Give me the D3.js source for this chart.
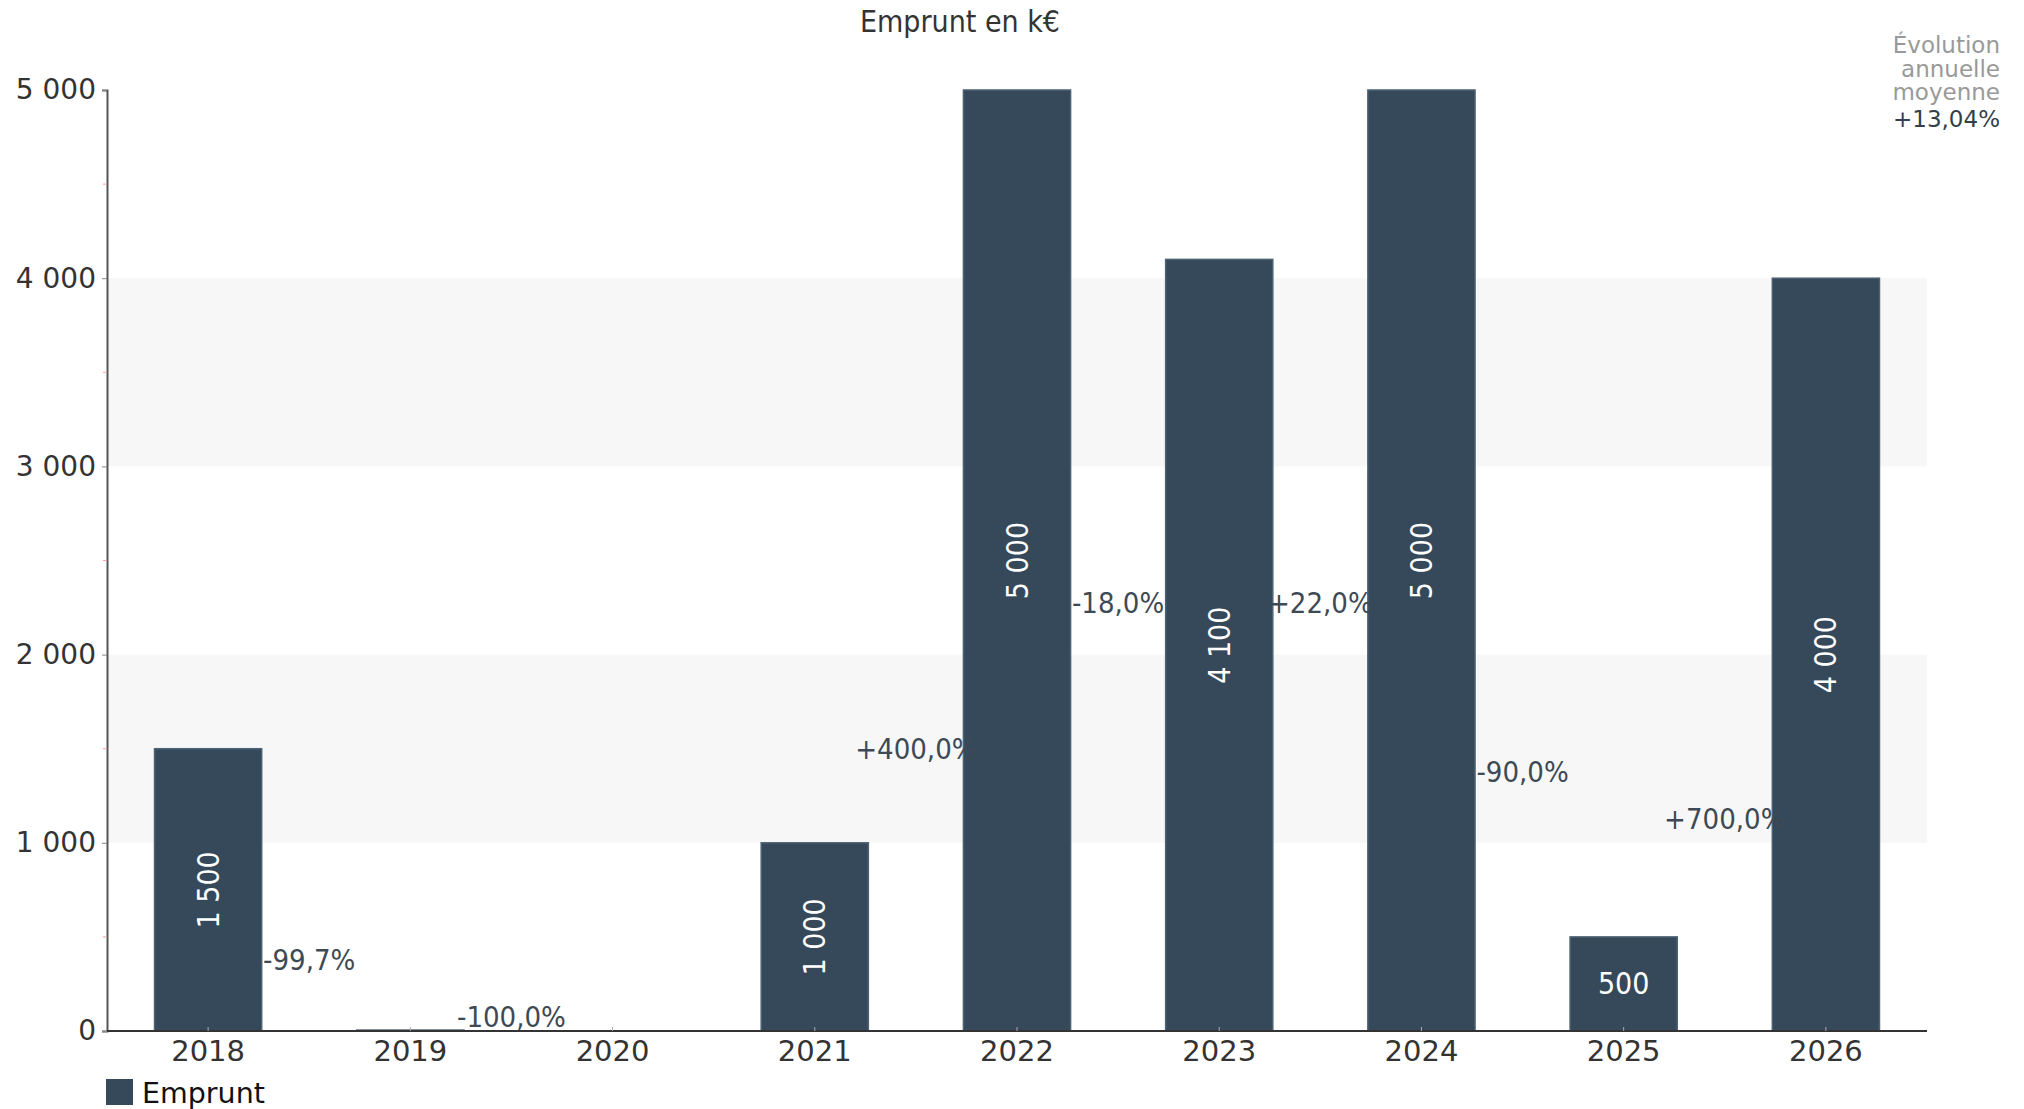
<!DOCTYPE html>
<html>
<head>
<meta charset="utf-8">
<script src="https://cdn.jsdelivr.net/npm/d3@7"></script>
<style>
  body { margin: 0; background: #fff; }
  svg { display: block; }
</style>
</head>
<body>
<script>
"use strict";

// data
var years = ["2018", "2019", "2020", "2021", "2022", "2023", "2024", "2025", "2026"];
var emprunt = [1500, 5, 0, 1000, 5000, 4100, 5000, 500, 4000];
var evolutions = ["-99,7%", "-100,0%", null, "+400,0%", "-18,0%", "+22,0%", "-90,0%", "+700,0%"];
var yTicks = [0, 1000, 2000, 3000, 4000, 5000];
var moyenne = "+13,04%";

var W = 2024, H = 1109;
var margin = { top: 90, right: 97, bottom: 78, left: 107 };
var w = W - margin.left - margin.right,
    h = H - margin.top - margin.bottom;

var barColor = "#35495a";
var narrow = "'Liberation Sans Narrow', 'DejaVu Sans Condensed', 'Open Sans', sans-serif";
var round = "'DejaVu Sans', Verdana, sans-serif";

function fmt(d) {
  return d3.format(",")(d).replace(/,/g, " ");
}

var svg = d3.select("body").append("svg").attr("width", W).attr("height", H);
var g = svg.append("g").attr("transform", "translate(" + margin.left + "," + margin.top + ")");

var x = d3.scaleBand().domain(years).range([0, w]).paddingInner(0.47).paddingOuter(0.235);
var y = d3.scaleLinear().domain([0, 5000]).range([h, 0]);

//Stripes
g.selectAll("rect.band").data([[1000, 2000], [3000, 4000]]).enter().append("rect")
  .attr("class", "band")
  .attr("x", 0).attr("width", w)
  .attr("y", function (d) { return y(d[1]); })
  .attr("height", function (d) { return y(d[0]) - y(d[1]); })
  .style("fill", "#f7f7f7");

//Bars
var barData = years.map(function (yr, i) { return { year: yr, value: emprunt[i] }; })
  .filter(function (d) { return d.value > 0; });
g.selectAll("rect.bar").data(barData).enter().append("rect")
  .attr("class", "bar")
  .attr("x", function (d) { return x(d.year); })
  .attr("width", x.bandwidth())
  .attr("y", function (d) { return y(d.value); })
  .attr("height", function (d) { return h - y(d.value); })
  .style("fill", barColor)
  .style("stroke", "#4d6272")
  .style("stroke-width", 1.5);

//Y axis
var yAxis = d3.axisLeft(y).tickValues(yTicks).tickSize(5).tickPadding(6).tickFormat(fmt);
var ya = g.append("g").call(yAxis);
ya.select(".domain").attr("stroke", "#555").attr("stroke-width", 2);
ya.selectAll(".tick line").attr("stroke", "#888");
ya.selectAll(".tick text").style("font-family", round).style("font-size", "28px").style("fill", "#333");

// minor ticks
g.selectAll("line.minor").data([500, 1500, 2500, 3500, 4500]).enter().append("line")
  .attr("x1", -4).attr("x2", 0)
  .attr("y1", function (d) { return y(d); }).attr("y2", function (d) { return y(d); })
  .attr("stroke", "#f0a0a0");

//X axis
var xAxis = d3.axisBottom(x).tickSize(4).tickPadding(5);
var xa = g.append("g").attr("transform", "translate(0," + h + ")").call(xAxis);
xa.select(".domain").attr("stroke", "#333").attr("stroke-width", 2).attr("d", "M0,0H" + w);
xa.selectAll(".tick line").attr("stroke", "#aaa").attr("y1", -4).attr("y2", 0);
xa.selectAll(".tick text").style("font-family", round).style("font-size", "29px").style("fill", "#333");

//Value labels
barData.forEach(function (d) {
  if (d.value < 500) return;
  var cx = x(d.year) + x.bandwidth() / 2,
      cy = y(d.value / 2);
  var t = g.append("text")
    .attr("text-anchor", "middle")
    .attr("dominant-baseline", "central")
    .style("font-family", narrow)
    .style("font-size", "30px")
    .style("fill", "#fff")
    .text(fmt(d.value));
  if (d.value > 500) t.attr("transform", "translate(" + cx + "," + cy + ") rotate(-90)");
  else t.attr("transform", "translate(" + cx + "," + cy + ")");
});

//Evolution labels
evolutions.forEach(function (lab, i) {
  if (!lab) return;
  var cx = (x(years[i]) + x(years[i + 1])) / 2 + x.bandwidth() / 2;
  var cy = Math.min(y((emprunt[i] + emprunt[i + 1]) / 4), h - 14);
  g.append("text")
    .attr("x", cx).attr("y", cy)
    .attr("text-anchor", "middle")
    .attr("dominant-baseline", "central")
    .style("font-family", narrow)
    .style("font-size", "29px")
    .style("fill", "#3d4a55")
    .text(lab);
});

//Title
svg.append("text").attr("x", 960).attr("y", 21)
  .attr("text-anchor", "middle").attr("dominant-baseline", "central")
  .style("font-family", narrow).style("font-size", "30px").style("fill", "#333")
  .text("Emprunt en k€");

//Average evolution
var avg = svg.append("g").attr("text-anchor", "end").style("font-family", round);
[["Évolution", 45, "#999", 23], ["annuelle", 69, "#999", 23], ["moyenne", 92, "#999", 23], [moyenne, 119, "#333f4a", 23]]
  .forEach(function (r) {
    avg.append("text").attr("x", 2000).attr("y", r[1]).attr("dominant-baseline", "central")
      .style("fill", r[2]).style("font-size", r[3] + "px").text(r[0]);
  });

//Legend
var legend = svg.append("g").attr("transform", "translate(106,1079)");
legend.append("rect").attr("width", 27).attr("height", 26).style("fill", barColor);
legend.append("text").attr("x", 36).attr("y", 14).attr("dominant-baseline", "central")
  .style("font-family", round).style("font-size", "28.5px").style("fill", "#111")
  .text("Emprunt");
</script>
</body>
</html>
